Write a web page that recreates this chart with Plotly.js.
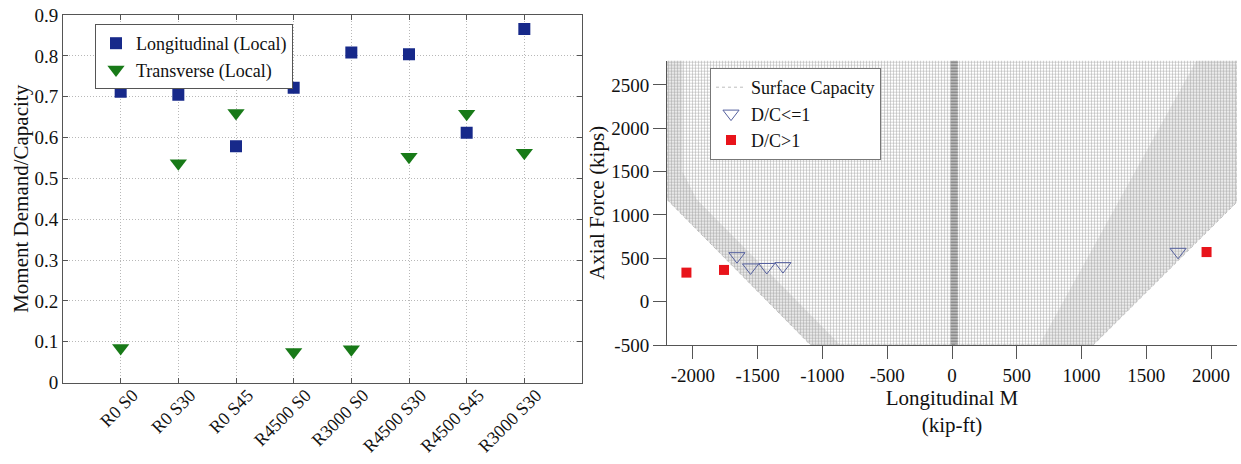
<!DOCTYPE html>
<html>
<head>
<meta charset="utf-8">
<script src="https://cdn.plot.ly/plotly-3.0.1.min.js"></script>
<style>html,body{margin:0;padding:0;background:#fff;}#chart{width:1241px;height:464px;}</style>
</head>
<body>
<div id="chart"></div>
<script>
// ---------- Left chart data ----------
const categories = ['R0 S0','R0 S30','R0 S45','R4500 S0','R3000 S0','R4500 S30','R4500 S45','R3000 S30'];
const longitudinal = [0.712, 0.705, 0.579, 0.722, 0.808, 0.804, 0.612, 0.866];
const transverse   = [0.085, 0.537, 0.660, 0.075, 0.082, 0.553, 0.658, 0.563];
const leftYTicks = [0, 0.1, 0.2, 0.3, 0.4, 0.5, 0.6, 0.7, 0.8, 0.9];

// ---------- Right chart data ----------
// capacity surface outline (kip-ft, kips)
const surfM = [-2200, -2200, -1092, 1090, 2200, 2200];
const surfP = [2900, 1180, -500, -500, 1150, 2900];
// denser zones of the surface mesh
const bandLeftM = [-2200, -1092, -862, -1970, -2080, -2080, -2200];
const bandLeftP = [1180, -500, -500, 1180, 1500, 2900, 2900];
const bandRightM = [674, 1090, 2200, 2200, 1931];
const bandRightP = [-500, -500, 1150, 2900, 2900];
const coreM = [-10, 45, 45, -10];
const coreP = [-500, -500, 2900, 2900];
// demand points
const dcOkM = [-1660, -1555, -1430, -1305, 1745];
const dcOkP = [525, 395, 400, 410, 575];
const dcFailM = [-2050, -1760, 1965];
const dcFailP = [335, 366, 572];
const rightXTicks = [-2000, -1500, -1000, -500, 0, 500, 1000, 1500, 2000];
const rightYTicks = [-500, 0, 500, 1000, 1500, 2000, 2500];

const FONT = '"Liberation Serif", "Times New Roman", serif';
const W = 1241, H = 464;
const px = v => v / W;
const py = v => (H - v) / H;

const traces = [
  // left chart
  {x: categories, y: longitudinal, xaxis: 'x', yaxis: 'y', type: 'scatter', mode: 'markers',
   name: 'Longitudinal (Local)', legend: 'legend',
   marker: {symbol: 'square', size: 12, color: '#17298a', line: {width: 0}}},
  {x: categories, y: transverse, xaxis: 'x', yaxis: 'y', type: 'scatter', mode: 'markers',
   name: 'Transverse (Local)', legend: 'legend',
   marker: {symbol: 'triangle-down', size: 15, color: '#187a18', line: {width: 0}}},
  // right chart surface
  {x: surfM, y: surfP, xaxis: 'x2', yaxis: 'y2', type: 'scatter', mode: 'none', fill: 'toself',
   showlegend: false, hoverinfo: 'skip', fillcolor: 'rgba(0,0,0,0)',
   fillpattern: {shape: '+', size: 3, solidity: 0.3, fgcolor: '#a9a9a9', bgcolor: 'rgba(255,255,255,0)'}},
  {x: bandLeftM, y: bandLeftP, xaxis: 'x2', yaxis: 'y2', type: 'scatter', mode: 'none', fill: 'toself',
   showlegend: false, hoverinfo: 'skip', fillcolor: 'rgba(0,0,0,0)',
   fillpattern: {shape: '.', size: 2, solidity: 0.3, fgcolor: '#969696', bgcolor: 'rgba(255,255,255,0)'}},
  {x: bandRightM, y: bandRightP, xaxis: 'x2', yaxis: 'y2', type: 'scatter', mode: 'none', fill: 'toself',
   showlegend: false, hoverinfo: 'skip', fillcolor: 'rgba(0,0,0,0)',
   fillpattern: {shape: '.', size: 2, solidity: 0.26, fgcolor: '#a0a0a0', bgcolor: 'rgba(255,255,255,0)'}},
  {x: coreM, y: coreP, xaxis: 'x2', yaxis: 'y2', type: 'scatter', mode: 'none', fill: 'toself',
   showlegend: false, hoverinfo: 'skip', fillcolor: 'rgba(0,0,0,0)',
   fillpattern: {shape: '-', size: 3, solidity: 0.5, fgcolor: '#7a7a7a', bgcolor: '#cdcdcd'}},
  {x: surfM, y: surfP, xaxis: 'x2', yaxis: 'y2', type: 'scatter', mode: 'lines',
   name: 'Surface Capacity', legend: 'legend2', hoverinfo: 'skip',
   line: {color: '#bdbdbd', width: 1, dash: 'dot'}},
  {x: dcOkM, y: dcOkP, xaxis: 'x2', yaxis: 'y2', type: 'scatter', mode: 'markers',
   name: 'D/C<=1', legend: 'legend2',
   marker: {symbol: 'triangle-down-open', size: 14, color: '#55609e', line: {width: 1, color: '#55609e'}}},
  {x: dcFailM, y: dcFailP, xaxis: 'x2', yaxis: 'y2', type: 'scatter', mode: 'markers',
   name: 'D/C>1', legend: 'legend2',
   marker: {symbol: 'square', size: 10, color: '#e8141b', line: {width: 0}}}
];

const layout = {
  width: W, height: H,
  margin: {l: 0, r: 0, t: 0, b: 0},
  paper_bgcolor: '#fff', plot_bgcolor: 'rgba(0,0,0,0)',
  font: {family: FONT, size: 18, color: '#111'},
  showlegend: true,
  xaxis: {
    domain: [px(63), px(582)], anchor: 'y', type: 'category',
    categoryorder: 'array', categoryarray: categories, range: [-1, 8],
    tickangle: -45, tickfont: {family: FONT, size: 18}, ticklabelshift: 12, ticklabelstandoff: -6,
    showline: true, linecolor: '#555', linewidth: 1, mirror: 'ticks',
    ticks: 'inside', ticklen: 5, tickcolor: '#555',
    showgrid: true, gridcolor: '#b8b8b8', griddash: '1px,2px', gridwidth: 1,
    zeroline: false, automargin: false, fixedrange: true
  },
  yaxis: {
    domain: [py(382.7), py(15)], anchor: 'x', range: [0, 0.9],
    tickvals: leftYTicks, ticktext: leftYTicks.map(String),
    tickfont: {family: FONT, size: 19},
    showline: true, linecolor: '#555', linewidth: 1, mirror: 'ticks',
    ticks: 'inside', ticklen: 5, tickcolor: '#555',
    showgrid: true, gridcolor: '#b8b8b8', griddash: '1px,2px', gridwidth: 1,
    zeroline: false, automargin: false, fixedrange: true,
    title: {text: 'Moment Demand/Capacity', font: {family: FONT, size: 21}, standoff: 0}
  },
  xaxis2: {
    domain: [px(667), px(1237)], anchor: 'y2', range: [-2200, 2200],
    tickvals: rightXTicks, ticktext: rightXTicks.map(String),
    tickfont: {family: FONT, size: 19},
    showline: true, linecolor: '#555', linewidth: 1, mirror: false,
    ticks: 'outside', ticklen: 13, tickcolor: '#555',
    showgrid: false, zeroline: false, automargin: false, fixedrange: true,
    title: {text: 'Longitudinal M<br>(kip-ft)', font: {family: FONT, size: 21}, standoff: 0}
  },
  yaxis2: {
    domain: [py(345), py(60.7)], anchor: 'x2', range: [-500, 2780],
    tickvals: rightYTicks, ticktext: rightYTicks.map(String),
    tickfont: {family: FONT, size: 19},
    showline: true, linecolor: '#555', linewidth: 1, mirror: false,
    ticks: 'outside', ticklen: 13, tickcolor: '#555',
    showgrid: false, zeroline: false, automargin: false, fixedrange: true,
    title: {text: 'Axial Force (kips)', font: {family: FONT, size: 21}, standoff: 0}
  },
  legend: {
    x: px(95), y: py(24), xanchor: 'left', yanchor: 'top',
    bgcolor: '#fff', bordercolor: '#555', borderwidth: 1,
    font: {family: FONT, size: 18}, tracegroupgap: 0, itemwidth: 30
  },
  legend2: {
    x: px(710), y: py(68), xanchor: 'left', yanchor: 'top',
    bgcolor: '#fff', bordercolor: '#777', borderwidth: 1,
    font: {family: FONT, size: 18}, tracegroupgap: 0, itemwidth: 30
  }
};

Plotly.newPlot('chart', traces, layout, {staticPlot: true, displayModeBar: false});
</script>
</body>
</html>
